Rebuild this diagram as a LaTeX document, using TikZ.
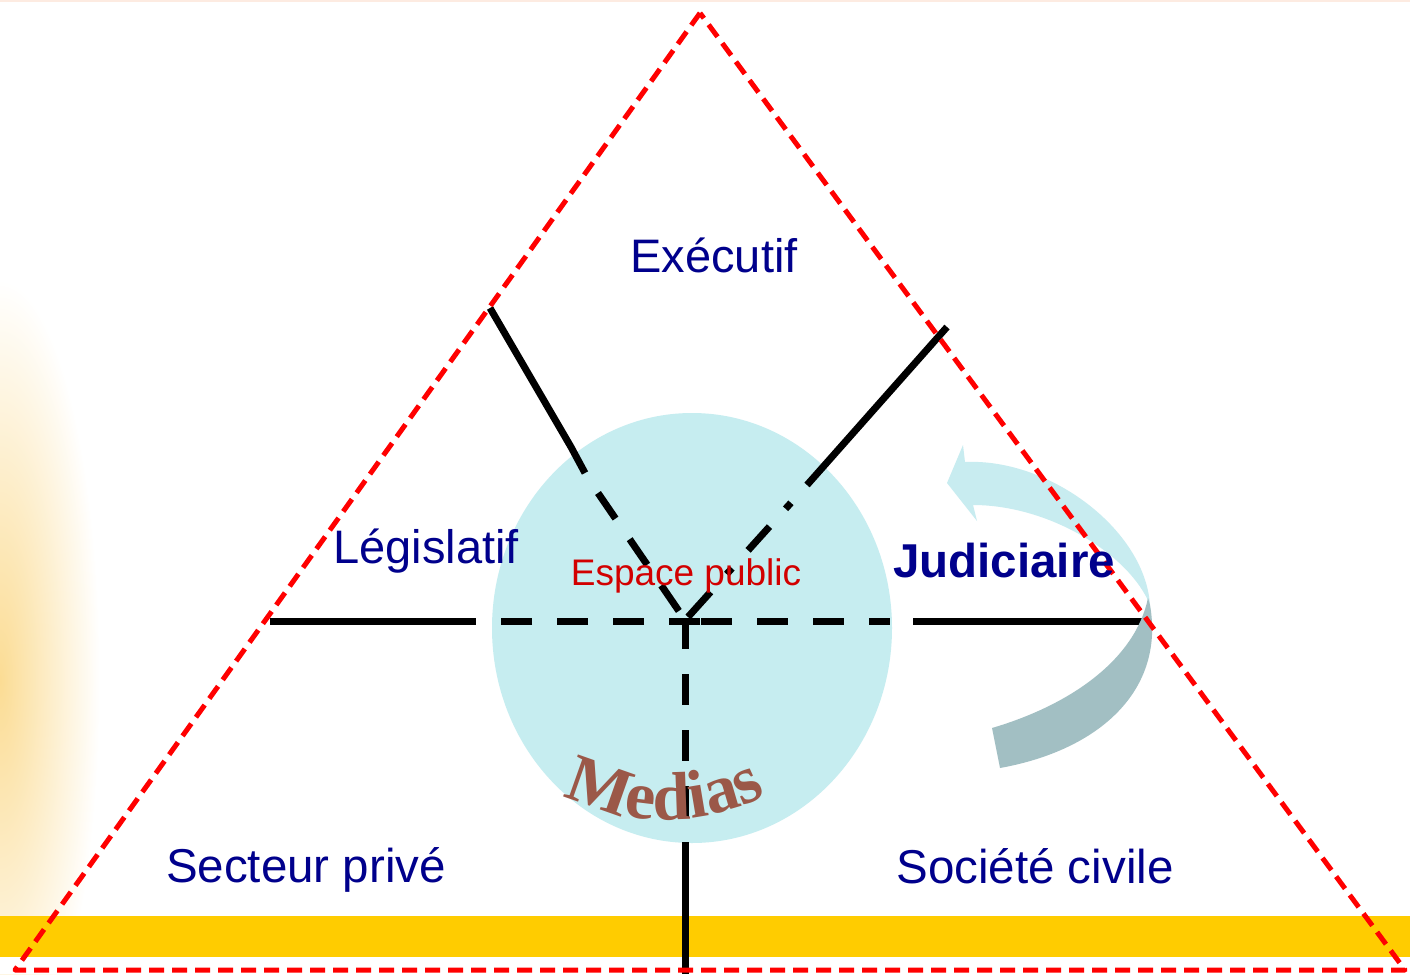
\documentclass[tikz,border=0pt]{standalone}
\usepackage{fontspec}
\setmainfont{Liberation Sans}
\newfontfamily\medfont{Liberation Serif}
\usetikzlibrary{decorations.text,shapes.geometric}
\definecolor{navy}{RGB}{0,0,140}
\definecolor{espred}{RGB}{210,0,0}
\definecolor{trired}{RGB}{255,0,0}
\definecolor{circc}{RGB}{198,237,240}
\definecolor{barc}{RGB}{255,204,0}
\definecolor{glowc}{RGB}{251,220,148}
\definecolor{topc}{RGB}{253,235,225}
\definecolor{medc}{RGB}{155,88,72}
\definecolor{arrlight}{RGB}{200,236,240}
\definecolor{arrdark}{RGB}{162,191,195}
\tikzset{
  lbl/.style={text=navy, inner sep=0pt, font=\fontsize{47}{50}\selectfont},
  triline/.style={draw=trired, line width=5pt, dash pattern=on 15pt off 8pt, line join=round},
  blk/.style={draw=black, line width=7pt},
  blkdash/.style={blk, dash pattern=on 31pt off 25pt},
  blkdashdot/.style={blk, dash pattern=on 8pt off 24pt on 32pt off 24pt on 8pt off 24pt on 40pt off 24pt, dash phase=160pt}
}
\begin{document}
\begin{tikzpicture}[x=1pt,y=-1pt]
\useasboundingbox (0,0) rectangle (1410,974);
\fill[white] (0,0) rectangle (1410,974);
% left glow
\shade[inner color=glowc, outer color=white] (0,680) ellipse [x radius=100pt, y radius=400pt];
\fill[white] (0,957) rectangle (120,974);
\draw[topc, line width=2pt] (0,1) -- (1410,1);
% bottom bar
\fill[barc] (0,916) rectangle (1410,957);
% public space
\node[ellipse, fill=circc, minimum width=400pt, minimum height=430pt, inner sep=0pt] (espace) at (692,628) {};
% coordinates
\coordinate (hL1) at (270,621);
\coordinate (hL2) at (476,621);
\coordinate (hC1) at (700,621);
\coordinate (hD1) at (497,621);
\coordinate (hC2) at (701,621);
\coordinate (hD2) at (890,621);
\coordinate (hR1) at (913,621);
\coordinate (hR2) at (1143,621);
\coordinate (vT) at (685,618);
\coordinate (vM) at (685,845);
\coordinate (vB) at (685,974);
\coordinate (lA) at (490,308);
\coordinate (lB) at (571,447);
\coordinate (lC) at (585,473);
\coordinate (lD) at (598,493);
\coordinate (lE) at (683,617);
\coordinate (rA) at (947,327);
\coordinate (rB) at (807,485);
\coordinate (rC) at (688,617);
% black lines
\draw[blk] (hL1) -- (hL2);
\draw[blkdash] (hC1) -- (hD1);
\draw[blkdash] (hC2) -- (hD2);
\draw[blk] (hR1) -- (hR2);
\draw[blkdash] (vT) -- (vM);
\draw[blk] (vM) -- (vB);
\draw[blk] (lA) -- (lB) -- (lC);
\draw[blkdash] (lD) -- (lE);
\draw[blk] (rA) -- (rB);
\draw[blkdashdot] (rB) -- (rC);
% curved arrow
\fill[arrlight] (947,483) -- (963,445) -- (965,462)
  .. controls (1050,458) and (1145,530) .. (1150,605)
  .. controls (1130,555) and (1050,505) .. (973,505)
  -- (977,521) -- cycle;
\fill[arrdark] (1150,605)
  .. controls (1165,690) and (1100,750) .. (1000,768)
  -- (992,728)
  .. controls (1070,705) and (1135,660) .. (1148,598) -- cycle;
% triangle
\coordinate (apex) at (700,13);
\coordinate (bl) at (15,970);
\coordinate (br) at (1405,970);
\draw[triline] (apex) -- (bl) -- (br) -- cycle;
% labels
\node[lbl, anchor=base] (exec) at (714,272) {Exécutif};
\node[lbl, anchor=base] (legis) at (426,563) {Législatif};
\node[lbl, anchor=base, font=\fontsize{47.5}{50}\selectfont\bfseries] (judic) at (1004,577) {Judiciaire};
\node[lbl, anchor=base, font=\fontsize{47.5}{50}\selectfont] (prive) at (306,882) {Secteur privé};
\node[lbl, anchor=base, font=\fontsize{47.5}{50}\selectfont] (civ) at (1035,883) {Société civile};
\node[text=espred, inner sep=0pt, anchor=base, font=\fontsize{37}{40}\selectfont] (esp) at (686,585) {Espace public};
% Medias
\path[decorate, decoration={text along path, text color=medc, text align=center,
  text={|\medfont\bfseries\fontsize{68}{72}\selectfont|Medias}}]
  (540.5,780.8) arc[start angle=235, end angle=305, radius=217pt];
\end{tikzpicture}
\end{document}
